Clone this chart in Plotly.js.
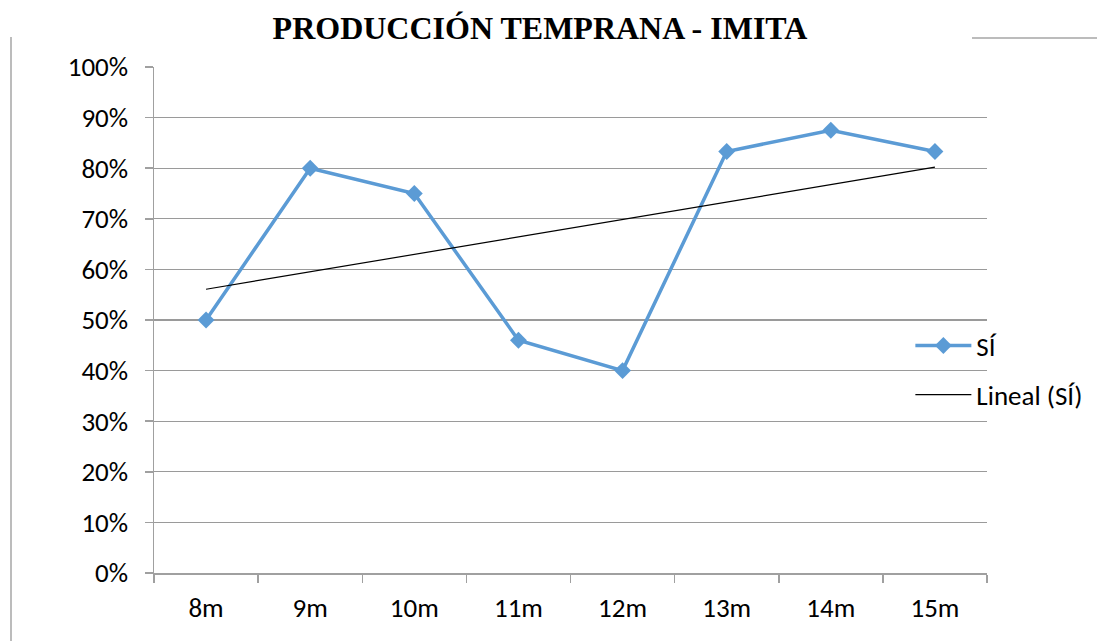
<!DOCTYPE html>
<html>
<head>
<meta charset="utf-8">
<script src="https://cdn.plot.ly/plotly-3.0.1.min.js"></script>
<style>html,body{margin:0;padding:0;background:#fff;}#chart{width:1097px;height:641px;}</style>
</head>
<body>
<div id="chart"></div>
<script>
const categories = ["8m", "9m", "10m", "11m", "12m", "13m", "14m", "15m"];
const siValues = [0.50, 0.80, 0.75, 0.46, 0.40, 0.833, 0.875, 0.833];
const yTickVals = [0, 0.1, 0.2, 0.3, 0.4, 0.5, 0.6, 0.7, 0.8, 0.9, 1.0];
const yTickText = ["0%", "10%", "20%", "30%", "40%", "50%", "60%", "70%", "80%", "90%", "100%"];
const seriesName = "SÍ";
const trendName = "Lineal (SÍ)";
const titleText = "PRODUCCIÓN TEMPRANA - IMITA";

// linear least-squares trendline over category index (Excel "Lineal")
const n = siValues.length;
const xs = siValues.map((_, i) => i + 1);
const mx = xs.reduce((a, b) => a + b, 0) / n;
const my = siValues.reduce((a, b) => a + b, 0) / n;
let sxy = 0, sxx = 0;
for (let i = 0; i < n; i++) { sxy += (xs[i] - mx) * (siValues[i] - my); sxx += (xs[i] - mx) ** 2; }
const slope = sxy / sxx;
const icpt = my - slope * mx;
const trendY = xs.map(x => icpt + slope * x);

const font = "Carlito, Calibri, Lato, 'Open Sans', sans-serif";
const fs = 27;

const traces = [
  {
    x: categories, y: siValues, type: "scatter", mode: "lines+markers",
    name: seriesName, legendgroup: "a",
    line: {color: "#5B9BD5", width: 3.5},
    marker: {symbol: "diamond", size: 13, color: "#5B9BD5"}
  },
  {
    x: categories, y: trendY, type: "scatter", mode: "lines",
    name: trendName, legendgroup: "b",
    line: {color: "#000000", width: 1.2}
  }
];

const layout = {
  width: 1097, height: 641,
  margin: {l: 154, r: 110, t: 67, b: 68, autoexpand: false},
  paper_bgcolor: "#ffffff", plot_bgcolor: "#ffffff",
  font: {family: font, size: fs, color: "#000000"},
  title: {
    text: "<b>" + titleText + "</b>",
    font: {family: "'Liberation Serif', 'Times New Roman', serif", size: 32, color: "#000"},
    xref: "container", yref: "container",
    x: 540 / 1097, xanchor: "center",
    y: 1 - 28 / 641, yanchor: "middle"
  },
  xaxis: {
    type: "category", range: [-0.5, 7.5],
    showgrid: false, zeroline: false,
    showline: true, linecolor: "#a0a0a0", linewidth: 1.5,
    ticks: "outside", tickson: "boundaries", ticklen: 8, tickcolor: "#a0a0a0", tickwidth: 1.5,
    tickfont: {family: font, size: fs, color: "#000"},
    ticklabelstandoff: 10
  },
  yaxis: {
    range: [0, 1], tickvals: yTickVals, ticktext: yTickText,
    showgrid: true, gridcolor: "#9a9a9a", gridwidth: 1.3,
    zeroline: false,
    showline: true, linecolor: "#a0a0a0", linewidth: 1.5,
    ticks: "outside", ticklen: 8, tickcolor: "#a0a0a0", tickwidth: 1.5,
    tickfont: {family: font, size: fs, color: "#000"},
    ticklabelstandoff: 11
  },
  showlegend: true,
  legend: {
    x: 0.908, xanchor: "left", y: 0.497, yanchor: "top",
    bgcolor: "rgba(0,0,0,0)", font: {family: font, size: fs, color: "#000"},
    tracegroupgap: 11, itemwidth: 56
  },
  shapes: [
    {type: "line", xref: "paper", yref: "paper",
     x0: -143 / 833, x1: -143 / 833, y0: (573 - 38) / 505, y1: (573 - 645) / 505,
     line: {color: "#a6a6a6", width: 1.5}},
    {type: "line", xref: "paper", yref: "paper",
     x0: (972 - 154) / 833, x1: (1100 - 154) / 833, y0: (573 - 39) / 505, y1: (573 - 39) / 505,
     line: {color: "#a6a6a6", width: 1.5}}
  ]
};

Plotly.newPlot("chart", traces, layout, {displayModeBar: false, staticPlot: true});
</script>
</body>
</html>
